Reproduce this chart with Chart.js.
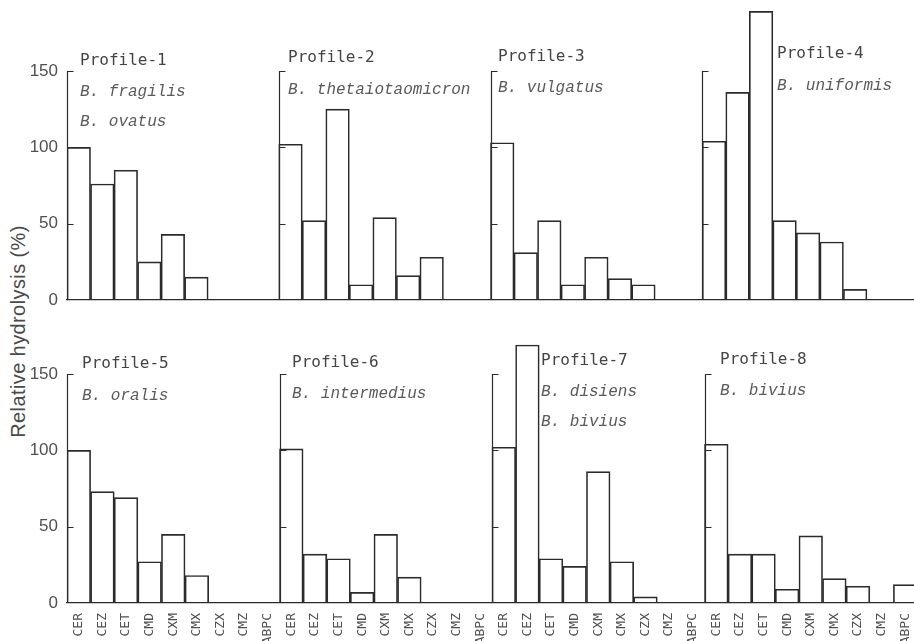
<!DOCTYPE html>
<html>
<head>
<meta charset="utf-8">
<script src="https://cdn.jsdelivr.net/npm/chart.js@4.4.1/dist/chart.umd.min.js"></script>
<style>
    html, body { margin: 0; padding: 0; background: #fff; width: 914px; height: 641px; overflow: hidden; }
    canvas { position: absolute; left: 0; }
    #topChart { top: 0; }
    #bottomChart { top: 303px; }
    #yTitle {
        position: absolute; left: -132px; top: 320px; width: 300px; text-align: center;
        font: 20px "Liberation Sans", Arial, sans-serif; letter-spacing: 0.4px; color: #4a4a4a;
        transform: rotate(-90deg);
    }
</style>
</head>
<body>
<div id="yTitle">Relative hydrolysis (%)</div>
<canvas id="topChart" width="914" height="310"></canvas>
<canvas id="bottomChart" width="917" height="345"></canvas>
<script>
// --- Data ---
const drugs = ["CER", "CEZ", "CET", "CMD", "CXM", "CMX", "CZX", "CMZ", "ABPC"];
const yTicks = [0, 50, 100, 150];

const profile1 = [100, 76, 85, 25, 43, 15, 0, 0, 0];
const profile2 = [102, 52, 125, 10, 54, 16, 28, 0, 0];
const profile3 = [103, 31, 52, 10, 28, 14, 10, 0, 0];
const profile4 = [104, 136, 189, 52, 44, 38, 7, 0, 0];
const profile5 = [100, 73, 69, 27, 45, 18, 0, 0, 0];
const profile6 = [101, 32, 29, 7, 45, 17, 0, 0, 0];
const profile7 = [102, 169, 29, 24, 86, 27, 4, 0, 0];
const profile8 = [104, 32, 32, 9, 44, 16, 11, 0, 12];

const topNames = ["Profile-1", "Profile-2", "Profile-3", "Profile-4"];
const bottomNames = ["Profile-5", "Profile-6", "Profile-7", "Profile-8"];
const topSpecies = [["B. fragilis", "B. ovatus"], ["B. thetaiotaomicron"], ["B. vulgatus"], ["B. uniformis"]];
const bottomSpecies = [["B. oralis"], ["B. intermedius"], ["B. disiens", "B. bivius"], ["B. bivius"]];

// --- Styling ---
const ink = "#2b2b2b";
const textInk = "#505050";

// 4 groups of drugs along one category axis
const categories = [].concat(drugs, drugs, drugs, drugs);

// vertical axis drawn at the left of each profile group, ticks pointing inward
const profileAxes = {
    id: "profileAxes",
    afterDatasetsDraw(chart) {
        const { ctx, scales: { x, y } } = chart;
        const half = (x.getPixelForValue(1) - x.getPixelForValue(0)) / 2;
        ctx.save();
        ctx.strokeStyle = ink;
        ctx.lineWidth = 1.2;
        for (let g = 0; g < 4; g++) {
            const px = Math.round(x.getPixelForValue(g * drugs.length) - half) + 0.5;
            ctx.beginPath();
            ctx.moveTo(px, y.getPixelForValue(0));
            ctx.lineTo(px, y.getPixelForValue(yTicks[yTicks.length - 1]));
            yTicks.slice(1).forEach(v => {
                const py = Math.round(y.getPixelForValue(v)) + 0.5;
                ctx.moveTo(px, py);
                ctx.lineTo(px + 6, py);
            });
            ctx.stroke();
        }
        ctx.restore();
    }
};

// "Profile-n" headings and species names
const profileText = {
    id: "profileText",
    afterDraw(chart, args, opts) {
        const ctx = chart.ctx;
        ctx.save();
        ctx.textBaseline = "middle";
        opts.names.forEach((name, i) => {
            const a = opts.anchors[i];
            ctx.fillStyle = "#444";
            ctx.font = '16px "DejaVu Sans Mono", monospace';
            ctx.fillText(name, a.x, a.y);
            ctx.fillStyle = "#5a5a5a";
            ctx.font = 'italic 16px "Liberation Mono", monospace';
            opts.species[i].forEach((s, k) => ctx.fillText(s, a.x, a.sy + k * 30));
        });
        ctx.restore();
    }
};

function makeChart(id, values, names, species, anchors, showLabels) {
    return new Chart(document.getElementById(id), {
        type: "bar",
        data: {
            labels: categories,
            datasets: [{
                data: values,
                backgroundColor: "rgba(0,0,0,0)",
                borderColor: ink,
                borderWidth: 1,
                borderSkipped: "start",
                barPercentage: 1,
                categoryPercentage: 1
            }]
        },
        options: {
            responsive: false,
            animation: false,
            devicePixelRatio: 1,
            layout: { padding: 0 },
            plugins: {
                legend: { display: false },
                tooltip: { enabled: false },
                profileText: { names: names, species: species, anchors: anchors }
            },
            scales: {
                x: {
                    grid: { display: false, drawTicks: false },
                    border: { display: true, color: ink, width: 1.3 },
                    ticks: {
                        display: showLabels,
                        autoSkip: false,
                        minRotation: 90,
                        maxRotation: 90,
                        padding: 10,
                        color: textInk,
                        font: { family: '"DejaVu Sans Mono", monospace', size: 13 }
                    },
                    afterFit(scale) {
                        scale.height = showLabels ? 45 : 10;
                        scale.paddingLeft = 0;
                        scale.paddingRight = 0;
                    }
                },
                y: {
                    min: 0,
                    max: 196.5,
                    grid: { display: false, drawTicks: false },
                    border: { display: false },
                    ticks: {
                        padding: 9,
                        color: textInk,
                        font: { family: '"Liberation Sans", Arial, sans-serif', size: 17 }
                    },
                    afterBuildTicks(scale) {
                        scale.ticks = yTicks.map(v => ({ value: v }));
                    },
                    afterFit(scale) {
                        scale.width = 67;
                        scale.paddingTop = 0;
                        scale.paddingBottom = 0;
                    }
                }
            }
        },
        plugins: [profileAxes, profileText]
    });
}

makeChart("topChart",
    [].concat(profile1, profile2, profile3, profile4),
    topNames, topSpecies,
    [{ x: 80, y: 61, sy: 92 }, { x: 288, y: 58, sy: 90 }, { x: 498, y: 57, sy: 88 }, { x: 777, y: 54, sy: 86 }],
    false);

makeChart("bottomChart",
    [].concat(profile5, profile6, profile7, profile8),
    bottomNames, bottomSpecies,
    [{ x: 82, y: 61, sy: 93 }, { x: 292, y: 60, sy: 91 }, { x: 541, y: 58, sy: 89 }, { x: 720, y: 57, sy: 88 }],
    true);
</script>
</body>
</html>
